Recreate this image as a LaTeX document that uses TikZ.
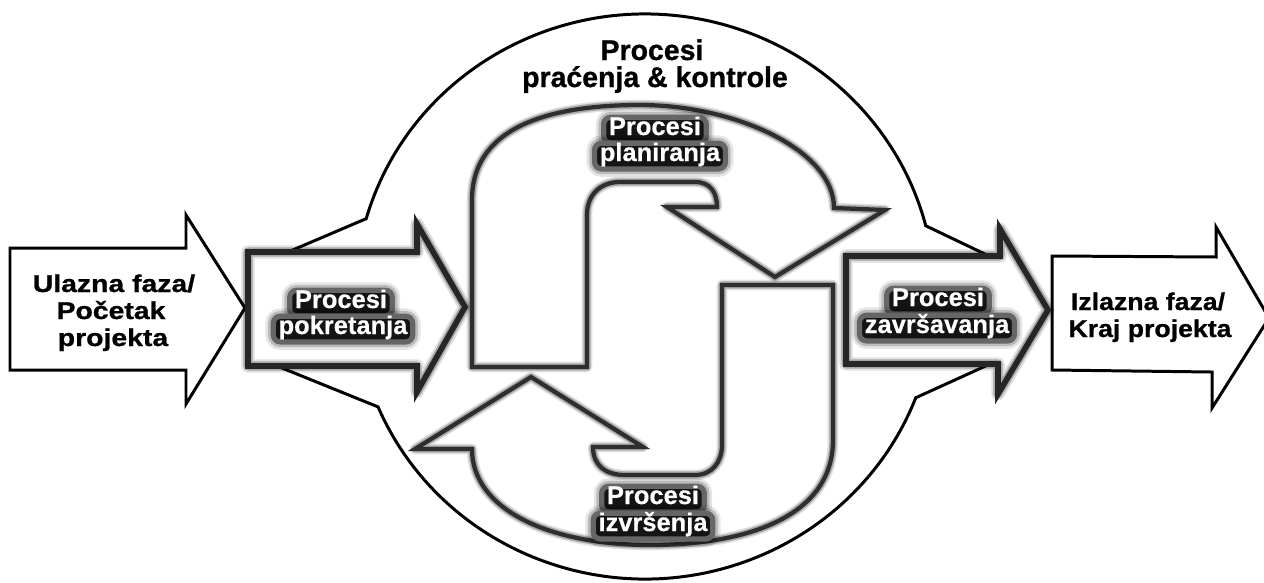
\documentclass[tikz,border=0pt]{standalone}
\usepackage{fontspec}
\setmainfont{Liberation Sans}
\newfontfamily\headfont[FakeBold=0.9]{Liberation Sans Bold}
\newfontfamily\infont[FakeStretch=1.17, FakeBold=0.9]{Liberation Sans Bold}
\newfontfamily\outfont[FakeStretch=1.10, FakeBold=0.9]{Liberation Sans Bold}
\newfontfamily\glowfont[FakeBold=0.4]{Liberation Sans Bold}
\usetikzlibrary{calc}

% two-line white label on a dark glow
\newcommand\glowpair[7]{%
  \node[glowbox] at (#2,#3) {#4};
  \node[glowbox] at (#5,#6) {#7};
  \node[glowtext] (#1a) at (#2,#3) {#4};
  \node[glowtext] (#1b) at (#5,#6) {#7};}

\begin{document}
\begin{tikzpicture}[x=0.02cm, y=-0.02cm,
  edge/.style={draw=black, line width=1.7pt},
  plainarrow/.style={draw=black, fill=white, line width=1.7pt, miter limit=12},
  softarrow/.style={fill=white,
    postaction={draw=black, line width=6pt, draw opacity=.12, line join=round},
    postaction={draw=black, line width=4.2pt, draw opacity=.25, line join=round},
    postaction={draw=black!82, line width=2.4pt}},
  heavyarrow/.style={fill=white,
    postaction={draw=black, line width=7.5pt, draw opacity=.12, line join=round},
    postaction={draw=black, line width=5.2pt, draw opacity=.25, line join=round},
    postaction={draw=black!85, line width=3.2pt}},
  glowfont/.style={font=\glowfont\fontsize{14.5}{15}\selectfont,
    text height=0.76em, text depth=0.2em, anchor=base},
  glowbox/.style={glowfont, text opacity=0, fill=black!92,
    inner xsep=3pt, inner ysep=2.5pt, rounded corners=4pt,
    preaction={draw=black, line width=9pt, draw opacity=.10, rounded corners=4pt},
    preaction={draw=black, line width=6pt, draw opacity=.18, rounded corners=4pt},
    draw=black!60, line width=3pt},
  glowtext/.style={glowfont, text=white, inner xsep=3pt, inner ysep=2.5pt},
  titletext/.style={font=\headfont\fontsize{16.2}{16}\selectfont, inner sep=0pt, anchor=base},
  intext/.style={font=\infont\fontsize{13.8}{15}\selectfont, inner sep=0pt, anchor=base},
  outtext/.style={font=\outfont\fontsize{13.8}{15}\selectfont, inner sep=0pt, anchor=base}]
\useasboundingbox (0,0) rectangle (1264,582);

% centre of the monitoring & control outline and where it meets the process arrows
\coordinate (C) at (645,296.5);
\coordinate (pkTop) at (288,252);
\coordinate (pkBot) at (277,366);
\coordinate (zvTop) at (989,256);
\coordinate (zvBot) at (990,364);

% monitoring & control outline
\draw[edge, line join=miter] (pkTop) -- ($(C)+(-164:290 and 282.5)$)
  arc[start angle=-164, end angle=-14.5, x radius=290, y radius=282.5] -- (zvTop);
\draw[edge, line join=miter] (pkBot) -- ($(C)+(157:290 and 282.5)$)
  arc[start angle=157, end angle=21, x radius=290, y radius=282.5] -- (zvBot);

% input and output phase arrows
\draw[plainarrow] (10,248) -- (186,248) -- (186,215) -- (245,308) -- (186,404)
  -- (186,370) -- (10,370) -- cycle;
\draw[plainarrow] (1052,256) -- (1216,257) -- (1216,227) -- (1269,318) -- (1212,408)
  -- (1212,372) -- (1052,370) -- cycle;

% initiating and closing process arrows
\draw[heavyarrow] (248,252) -- (417,252) -- (417,224) -- (465,307) -- (417,392)
  -- (417,366) -- (248,366) -- cycle;
\draw[heavyarrow] (846,256) -- (1000,256) -- (1000,229) -- (1048,310) -- (998,394)
  -- (998,364) -- (846,364) -- cycle;

% planning loop (upper bent arrow)
\draw[softarrow] (472,367) -- (472,200) .. controls (472,122) and (560,105) .. (640,105)
  .. controls (735,105) and (834,150) .. (834,208) -- (885,210) -- (775,277)
  -- (667,207) -- (717,207) .. controls (717,192) and (710,182) .. (695,182)
  -- (620,182) .. controls (600,182) and (587,195) .. (587,215) -- (587,367) -- cycle;

% executing loop (lower bent arrow)
\draw[softarrow] (722,285) -- (833,285) -- (833,440) .. controls (833,515) and (750,545) .. (650,545)
  .. controls (550,545) and (472,510) .. (472,449) -- (415,449) -- (531,377) -- (643,447)
  -- (593,447) .. controls (593,465) and (605,475) .. (625,475) -- (695,475)
  .. controls (712,475) and (722,462) .. (722,445) -- cycle;

% labels
\node[titletext] (mc1) at (652,60) {Procesi};
\node[titletext] (mc2) at (655,87) {praćenja \& kontrole};

\node[intext] (in1) at (114,292) {Ulazna faza/};
\node[intext] (in2) at (111,319) {Početak};
\node[intext] (in3) at (113,346) {projekta};

\node[outtext] (out1) at (1148,310) {Izlazna faza/};
\node[outtext] (out2) at (1150,337) {Kraj projekta};

\glowpair{pokr}{341}{308}{Procesi}{343}{334}{pokretanja}
\glowpair{zavr}{938}{306}{Procesi}{937}{333}{završavanja}
\glowpair{plan}{655}{135}{Procesi}{660}{161}{planiranja}
\glowpair{izvr}{653}{504}{Procesi}{653}{531}{izvršenja}
\end{tikzpicture}
\end{document}
